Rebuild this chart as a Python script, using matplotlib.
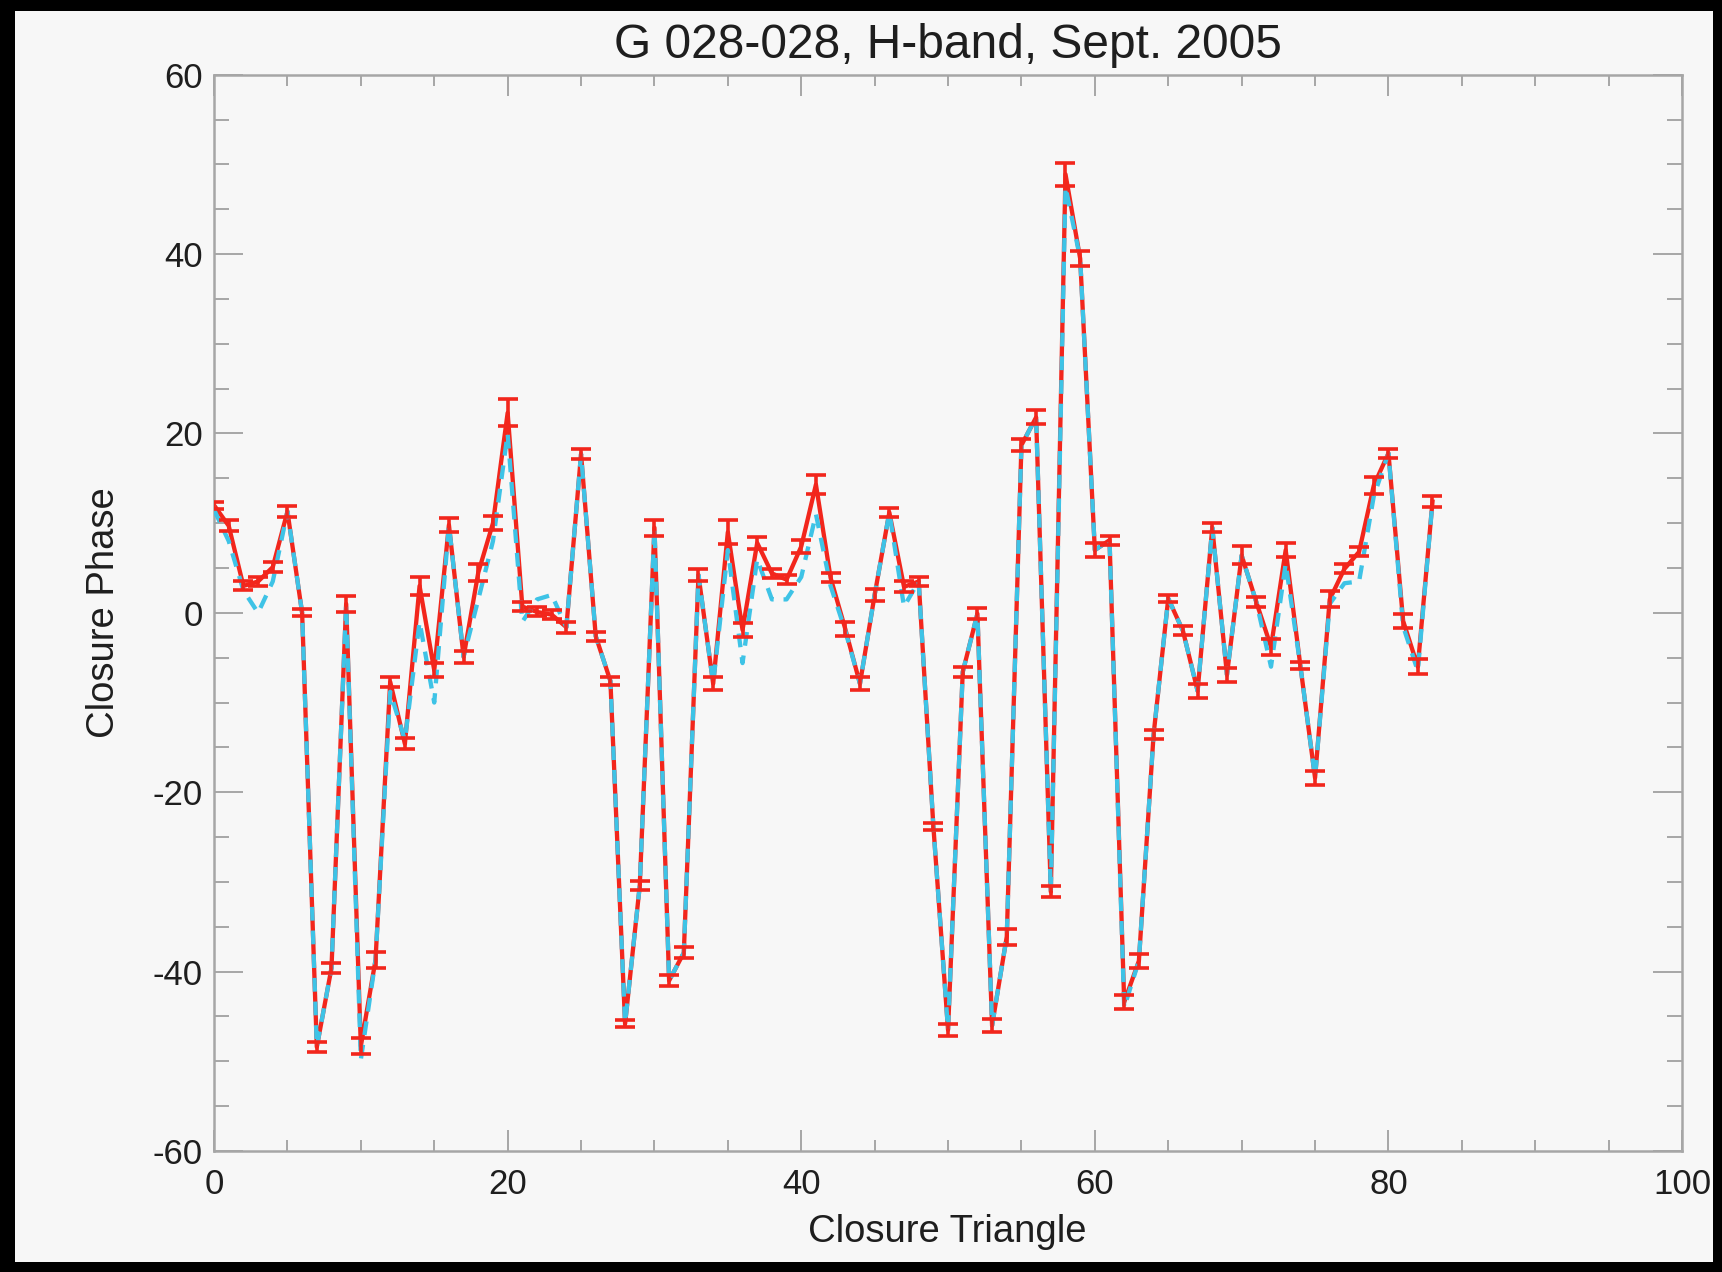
import matplotlib.pyplot as plt
from matplotlib.patches import Rectangle
from matplotlib.ticker import MultipleLocator
import numpy as np

plt.rcParams['font.family'] = ['Liberation Sans', 'DejaVu Sans']
plt.rcParams['axes.unicode_minus'] = False

# closure triangle index
tri = np.arange(84)

# measured closure phase (red, with error bars)
cp = [12.0, 9.7, 3.0, 3.5, 5.1, 11.3, 0.0, -48.4, -39.6, 1.0,
      -48.3, -38.7, -7.7, -14.6, 3.0, -6.4, 9.8, -4.9, 4.5, 10.0,
      22.3, 0.7, 0.1, -0.2, -1.6, 17.7, -2.6, -7.6, -45.8, -30.4,
      9.5, -41.0, -37.9, 4.2, -7.9, 9.0, -1.9, 7.8, 4.4, 3.7,
      7.4, 14.3, 3.9, -1.8, -7.9, 2.0, 11.2, 2.9, 3.5, -23.8,
      -46.5, -6.6, -0.1, -46.0, -36.1, 18.7, 21.8, -31.1, 48.9, 39.5,
      7.0, 8.1, -43.4, -38.8, -13.6, 1.6, -2.0, -8.7, 9.5, -6.9,
      6.4, 1.2, -3.8, 7.0, -5.9, -18.4, 1.5, 4.9, 6.8, 14.2,
      17.8, -0.9, -6.0, 12.4]

cp_err = [0.4, 0.6, 0.5, 0.5, 0.6, 0.6, 0.4, 0.6, 0.6, 0.9,
          0.9, 0.9, 0.6, 0.6, 1.0, 0.8, 0.8, 0.7, 0.9, 0.8,
          1.5, 0.5, 0.5, 0.5, 0.6, 0.6, 0.5, 0.4, 0.4, 0.5,
          0.9, 0.6, 0.6, 0.7, 0.7, 1.3, 0.8, 0.7, 0.5, 0.5,
          0.7, 1.1, 0.5, 0.8, 0.7, 0.7, 0.5, 0.6, 0.5, 0.4,
          0.7, 0.6, 0.6, 0.7, 0.9, 0.7, 0.8, 0.6, 1.3, 0.8,
          0.8, 0.5, 0.8, 0.8, 0.5, 0.4, 0.5, 0.8, 0.5, 0.8,
          1.0, 0.6, 0.9, 0.8, 0.4, 0.8, 0.9, 0.5, 0.5, 1.0,
          0.5, 0.8, 0.8, 0.6]

# model closure phase (cyan dashed)
model = [11.5, 8.0, 2.5, 0.0, 3.5, 11.3, 0.0, -48.4, -39.6, 1.0,
         -49.8, -38.7, -8.8, -14.2, -1.0, -10.0, 9.8, -4.9, 1.5, 8.0,
         20.0, -1.0, 1.5, 2.0, -1.6, 17.7, -2.6, -7.6, -45.8, -30.4,
         9.5, -41.0, -37.9, 4.2, -7.9, 7.0, -5.6, 6.0, 1.5, 1.5,
         4.0, 11.0, 3.0, -2.0, -7.9, 2.0, 11.2, 0.7, 3.5, -23.8,
         -46.5, -6.6, -0.1, -46.0, -36.1, 18.7, 21.8, -31.1, 47.5, 39.5,
         7.0, 8.1, -44.0, -38.8, -13.6, 1.6, -2.0, -8.7, 9.5, -6.9,
         6.4, 1.2, -6.0, 5.5, -5.9, -18.4, 1.0, 3.3, 3.5, 13.0,
         17.8, -1.5, -6.5, 12.4]

red = "#f2261c"
cyan = "#3ec3e6"
gray = "#a6a6a6"
bg = "#f7f7f7"

fig = plt.figure(figsize=(17.22, 12.72), dpi=100, facecolor="black")
fig.add_artist(Rectangle((0.009, 0.008), 0.986, 0.983, transform=fig.transFigure,
                         facecolor=bg, edgecolor="none", zorder=-10))

ax = fig.add_axes([0.1243, 0.0951, 0.8525, 0.8462])
ax.set_facecolor(bg)

# data: red solid line with error bars, model dashed cyan on top
ax.plot(tri, cp, color=red, lw=3.1, zorder=2)
ax.plot(tri, model, color=cyan, lw=3.1, dashes=(3.2, 2.3), zorder=3)
ax.errorbar(tri, cp, yerr=cp_err, fmt="none", ecolor=red, elinewidth=2.6,
            capsize=7, capthick=2.6, zorder=4)

ax.set_xlim(0, 100)
ax.set_ylim(-60, 60)
ax.xaxis.set_major_locator(MultipleLocator(20))
ax.xaxis.set_minor_locator(MultipleLocator(5))
ax.yaxis.set_major_locator(MultipleLocator(20))
ax.yaxis.set_minor_locator(MultipleLocator(5))

ax.tick_params(which="both", direction="in", top=True, right=True,
               color=gray, width=1.4, labelcolor="#1e1e1e", labelsize=25)
ax.tick_params(axis="x", which="major", length=15, pad=12)
ax.tick_params(axis="x", which="minor", length=7.7)
ax.tick_params(axis="y", which="major", length=21, pad=8)
ax.tick_params(axis="y", which="minor", length=10.6)

for s in ax.spines.values():
    s.set_color(gray)
    s.set_linewidth(1.8)

ax.set_title("G 028-028, H-band, Sept. 2005", fontsize=34.5, color="#1e1e1e", pad=12)
fig.text(0.55, 0.0236, "Closure Triangle", fontsize=27.5, color="#1e1e1e",
         ha="center", va="baseline")
fig.text(0.0605, 0.518, "Closure Phase", fontsize=27.5, color="#1e1e1e",
         ha="center", va="center", rotation=90)

fig.savefig("out.png", dpi=100, facecolor=fig.get_facecolor())
